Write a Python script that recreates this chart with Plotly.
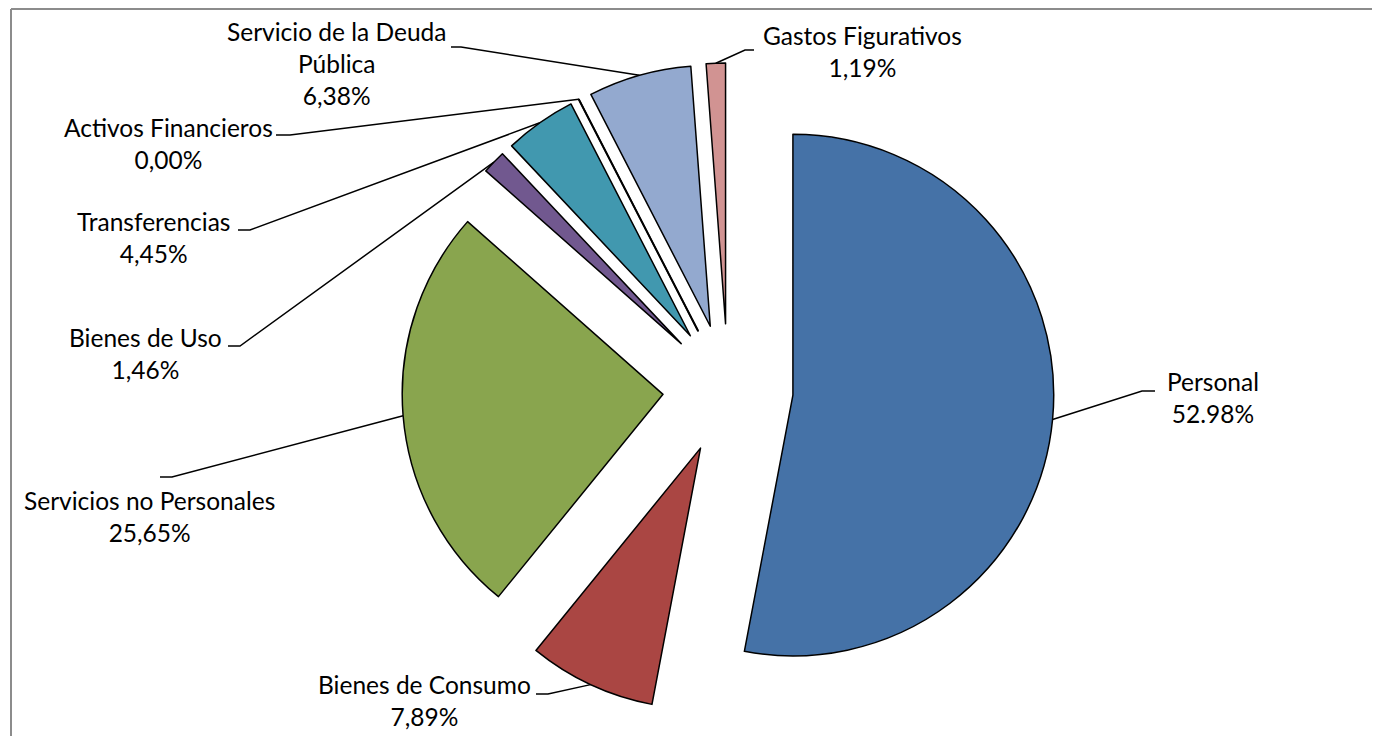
import plotly.graph_objects as go
import math

# ---- data ----
categories = ["Personal", "Bienes de Consumo", "Servicios no Personales", "Bienes de Uso",
              "Transferencias", "Activos Financieros", "Servicio de la Deuda Pública",
              "Gastos Figurativos"]
values = [52.98, 7.89, 25.65, 1.46, 4.45, 0.00, 6.38, 1.19]
value_labels = ["52.98%", "7,89%", "25,65%", "1,46%", "4,45%", "0,00%", "6,38%", "1,19%"]
label_names = ["Personal", "Bienes de Consumo", "Servicios no Personales", "Bienes de Uso",
               "Transferencias", "Activos Financieros", "Servicio de la Deuda<br>Pública",
               "Gastos Figurativos"]

# ---- style / layout ----
colors = ["#4572A7", "#AA4643", "#89A54E", "#71588F", "#4198AF", "#7F7F7F", "#93A9CF", "#D19392"]
OFF = 8                    # page body margin (px)
W, H = 1380 - 2 * OFF, 750 - OFF - 14
CX, CY = 728, 389          # pie centre (page px)
BOX = 652                  # pie box size (px)
PULL = 0.25
R = BOX / (2 + 2 * PULL)
FONT = "Lato"
FS = 24.5

# label block centres (page px) and elbow segments (page px)
label_pos = [(1213, 397), (424, 700), (149, 517), (145, 353), (153, 237), (168, 143), (336, 64), (862, 51)]
elbows = [((1142, 391), (1155, 391)), ((548, 694), (536, 694)), ((172, 477), (160, 477)),
          ((240, 346), (228, 346)), ((250, 230), (238, 230)), ((290, 135), (276, 135)),
          ((461, 47), (451, 47)), ((745, 50), (754, 50))]


def px(x):
    return (x - OFF) / W


def py(y):
    return 1 - (y - OFF) / H


fig = go.Figure(go.Pie(
    labels=categories, values=values, sort=False, direction="clockwise", rotation=0,
    pull=[PULL] * len(values), textinfo="none", hoverinfo="label+percent",
    marker=dict(colors=colors, line=dict(color="#000000", width=1.5)),
    domain=dict(x=[px(CX - BOX / 2), px(CX + BOX / 2)], y=[py(CY + BOX / 2), py(CY - BOX / 2)]),
    showlegend=False,
))

total = sum(values)
cum = 0.0
shapes = []
annotations = []
for i, v in enumerate(values):
    mid = (cum + v / 2) / total * 2 * math.pi
    cum += v
    dist = R * (1 + PULL)
    ax = CX + dist * math.sin(mid)
    ay = CY - dist * math.cos(mid)
    (ex, ey), (hx, hy) = elbows[i]
    shapes.append(dict(type="path", xref="paper", yref="paper",
                       path=f"M {px(ax)},{py(ay)} L {px(ex)},{py(ey)} L {px(hx)},{py(hy)}",
                       line=dict(color="#000000", width=1.5)))
    if v == 0:
        # zero-width slice drawn as a single edge line
        sx = CX + R * PULL * math.sin(mid)
        sy = CY - R * PULL * math.cos(mid)
        shapes.append(dict(type="line", xref="paper", yref="paper",
                           x0=px(sx), y0=py(sy), x1=px(ax), y1=py(ay),
                           line=dict(color="#000000", width=2)))
    lx, ly = label_pos[i]
    annotations.append(dict(x=px(lx), y=py(ly), xref="paper", yref="paper",
                            text=f"{label_names[i]}<br>{value_labels[i]}", showarrow=False,
                            xanchor="center", yanchor="middle", align="center",
                            font=dict(family=FONT, size=FS, color="#000000")))

# chart border (top and left)
shapes.append(dict(type="line", xref="paper", yref="paper", x0=px(11), y0=py(9), x1=1, y1=py(9),
                   line=dict(color="#8C8C8C", width=2)))
shapes.append(dict(type="line", xref="paper", yref="paper", x0=px(11), y0=py(9), x1=px(11), y1=0,
                   line=dict(color="#8C8C8C", width=2)))

fig.update_layout(width=W, height=H, margin=dict(l=0, r=0, t=0, b=0),
                  paper_bgcolor="white", plot_bgcolor="white",
                  shapes=shapes, annotations=annotations,
                  font=dict(family=FONT, size=FS))
fig.write_html("out.html", config={"displayModeBar": False})
